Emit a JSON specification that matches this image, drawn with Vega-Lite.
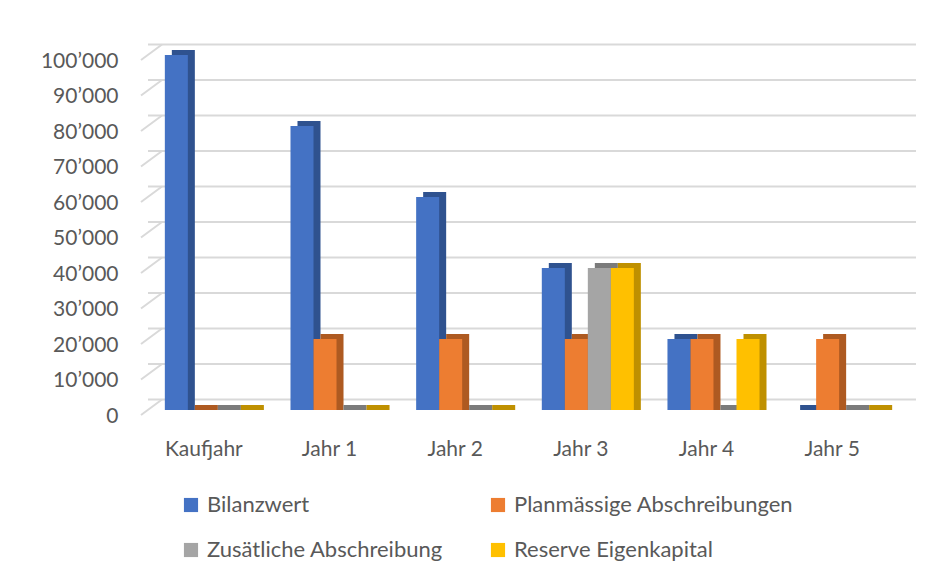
{
  "$schema": "https://vega.github.io/schema/vega-lite/v6.json",
  "autosize": {"type": "none"},
  "padding": {"left": 148, "top": 55, "right": 50, "bottom": 168},
  "width": 754,
  "height": 355,
  "background": "#ffffff",
  "config": {
    "view": {"stroke": null},
    "font": "Lato"
  },
  "datasets": {
    "bars": [
      {"cat": "Kaufjahr", "series": "Bilanzwert", "v": 100000},
      {"cat": "Kaufjahr", "series": "Planmässige Abschreibungen", "v": 0},
      {"cat": "Kaufjahr", "series": "Zusätliche Abschreibung", "v": 0},
      {"cat": "Kaufjahr", "series": "Reserve Eigenkapital", "v": 0},
      {"cat": "Jahr 1", "series": "Bilanzwert", "v": 80000},
      {"cat": "Jahr 1", "series": "Planmässige Abschreibungen", "v": 20000},
      {"cat": "Jahr 1", "series": "Zusätliche Abschreibung", "v": 0},
      {"cat": "Jahr 1", "series": "Reserve Eigenkapital", "v": 0},
      {"cat": "Jahr 2", "series": "Bilanzwert", "v": 60000},
      {"cat": "Jahr 2", "series": "Planmässige Abschreibungen", "v": 20000},
      {"cat": "Jahr 2", "series": "Zusätliche Abschreibung", "v": 0},
      {"cat": "Jahr 2", "series": "Reserve Eigenkapital", "v": 0},
      {"cat": "Jahr 3", "series": "Bilanzwert", "v": 40000},
      {"cat": "Jahr 3", "series": "Planmässige Abschreibungen", "v": 20000},
      {"cat": "Jahr 3", "series": "Zusätliche Abschreibung", "v": 40000},
      {"cat": "Jahr 3", "series": "Reserve Eigenkapital", "v": 40000},
      {"cat": "Jahr 4", "series": "Bilanzwert", "v": 20000},
      {"cat": "Jahr 4", "series": "Planmässige Abschreibungen", "v": 20000},
      {"cat": "Jahr 4", "series": "Zusätliche Abschreibung", "v": 0},
      {"cat": "Jahr 4", "series": "Reserve Eigenkapital", "v": 20000},
      {"cat": "Jahr 5", "series": "Bilanzwert", "v": 0},
      {"cat": "Jahr 5", "series": "Planmässige Abschreibungen", "v": 20000},
      {"cat": "Jahr 5", "series": "Zusätliche Abschreibung", "v": 0},
      {"cat": "Jahr 5", "series": "Reserve Eigenkapital", "v": 0}
    ],
    "ticks": [
      {"t": 0}, {"t": 10000}, {"t": 20000}, {"t": 30000}, {"t": 40000}, {"t": 50000},
      {"t": 60000}, {"t": 70000}, {"t": 80000}, {"t": 90000}, {"t": 100000}
    ]
  },
  "layer": [
    {
      "data": {"name": "ticks"},
      "mark": {"type": "rule", "color": "#d9d9d9", "strokeWidth": 2, "xOffset": 14, "yOffset": -10.5},
      "encoding": {
        "y": {"field": "t", "type": "quantitative", "title": null, "scale": {"domain": [0, 100000], "nice": false},
              "axis": {"title": null, "grid": false, "ticks": false, "domain": false, "labelPadding": 30, "labelOffset": 6,
                       "values": [0, 10000, 20000, 30000, 40000, 50000, 60000, 70000, 80000, 90000, 100000],
                       "labelExpr": "replace(format(datum.value, ','), ',', '’')",
                       "labelFont": "Lato", "labelFontSize": 21, "labelColor": "#595959"}}
      }
    },
    {
      "data": {"name": "ticks"},
      "mark": {"type": "rule", "color": "#d9d9d9", "strokeWidth": 2, "yOffset": 5, "y2Offset": -10.5},
      "encoding": {
        "x": {"value": -7},
        "x2": {"value": 14},
        "y": {"field": "t", "type": "quantitative", "title": null,
              "axis": {"title": null, "grid": false, "ticks": false, "domain": false, "labelPadding": 30, "labelOffset": 6,
                       "values": [0, 10000, 20000, 30000, 40000, 50000, 60000, 70000, 80000, 90000, 100000],
                       "labelExpr": "replace(format(datum.value, ','), ',', '’')",
                       "labelFont": "Lato", "labelFontSize": 21, "labelColor": "#595959"}},
        "y2": {"field": "t"}
      }
    },
    {
      "data": {"name": "bars"},
      "mark": {"type": "bar", "yOffset": -5, "y2Offset": 0.001},
      "encoding": {
        "x": {"field": "cat", "type": "nominal", "sort": ["Kaufjahr", "Jahr 1", "Jahr 2", "Jahr 3", "Jahr 4", "Jahr 5"],
              "scale": {"paddingInner": 0.2675, "paddingOuter": 0.134, "range": [7, 761]}, "axis": null},
        "xOffset": {"field": "series", "type": "nominal",
                    "sort": ["Bilanzwert", "Planmässige Abschreibungen", "Zusätliche Abschreibung", "Reserve Eigenkapital"],
                    "scale": {"paddingInner": 0, "paddingOuter": 0}},
        "y": {"field": "v", "type": "quantitative", "title": null,
              "axis": {"title": null, "grid": false, "ticks": false, "domain": false, "labelPadding": 30, "labelOffset": 6,
                       "values": [0, 10000, 20000, 30000, 40000, 50000, 60000, 70000, 80000, 90000, 100000],
                       "labelExpr": "replace(format(datum.value, ','), ',', '’')",
                       "labelFont": "Lato", "labelFontSize": 21, "labelColor": "#595959"}},
        "y2": {"datum": 0},
        "color": {"field": "series", "type": "nominal",
                  "scale": {"domain": ["Bilanzwert", "Planmässige Abschreibungen", "Zusätliche Abschreibung", "Reserve Eigenkapital"],
                            "range": ["#2F528F", "#AE5A21", "#7B7B7B", "#BF9000"]},
                  "legend": null}
      }
    },
    {
      "data": {"name": "bars"},
      "mark": {"type": "bar"},
      "encoding": {
        "x": {"field": "cat", "type": "nominal", "sort": ["Kaufjahr", "Jahr 1", "Jahr 2", "Jahr 3", "Jahr 4", "Jahr 5"],
              "scale": {"paddingInner": 0.2675, "paddingOuter": 0.134},
              "axis": {"title": null, "labelAngle": 0, "ticks": false, "domain": false, "labelPadding": 28, "labelOffset": -7,
                       "labelFont": "Lato", "labelFontSize": 21, "labelColor": "#595959"}},
        "xOffset": {"field": "series", "type": "nominal",
                    "sort": ["Bilanzwert", "Planmässige Abschreibungen", "Zusätliche Abschreibung", "Reserve Eigenkapital"]},
        "y": {"field": "v", "type": "quantitative", "title": null,
              "axis": {"title": null, "grid": false, "ticks": false, "domain": false, "labelPadding": 30, "labelOffset": 6,
                       "values": [0, 10000, 20000, 30000, 40000, 50000, 60000, 70000, 80000, 90000, 100000],
                       "labelExpr": "replace(format(datum.value, ','), ',', '’')",
                       "labelFont": "Lato", "labelFontSize": 21, "labelColor": "#595959"}},
        "color": {"field": "series", "type": "nominal",
                  "scale": {"domain": ["Bilanzwert", "Planmässige Abschreibungen", "Zusätliche Abschreibung", "Reserve Eigenkapital"],
                            "range": ["#4472C4", "#ED7D31", "#A5A5A5", "#FFC000"]},
                  "legend": {"title": null, "orient": "none", "legendX": 32, "legendY": 439, "direction": "horizontal",
                             "columns": 2, "columnPadding": 44, "rowPadding": 23, "padding": 0,
                             "symbolType": "square", "symbolSize": 200, "symbolStrokeWidth": 0, "symbolOpacity": 1,
                             "labelFont": "Lato", "labelFontSize": 22, "labelColor": "#595959", "labelOffset": 5, "labelLimit": 400}}
      }
    }
  ],
  "resolve": {"scale": {"color": "independent", "x": "independent"}}
}
